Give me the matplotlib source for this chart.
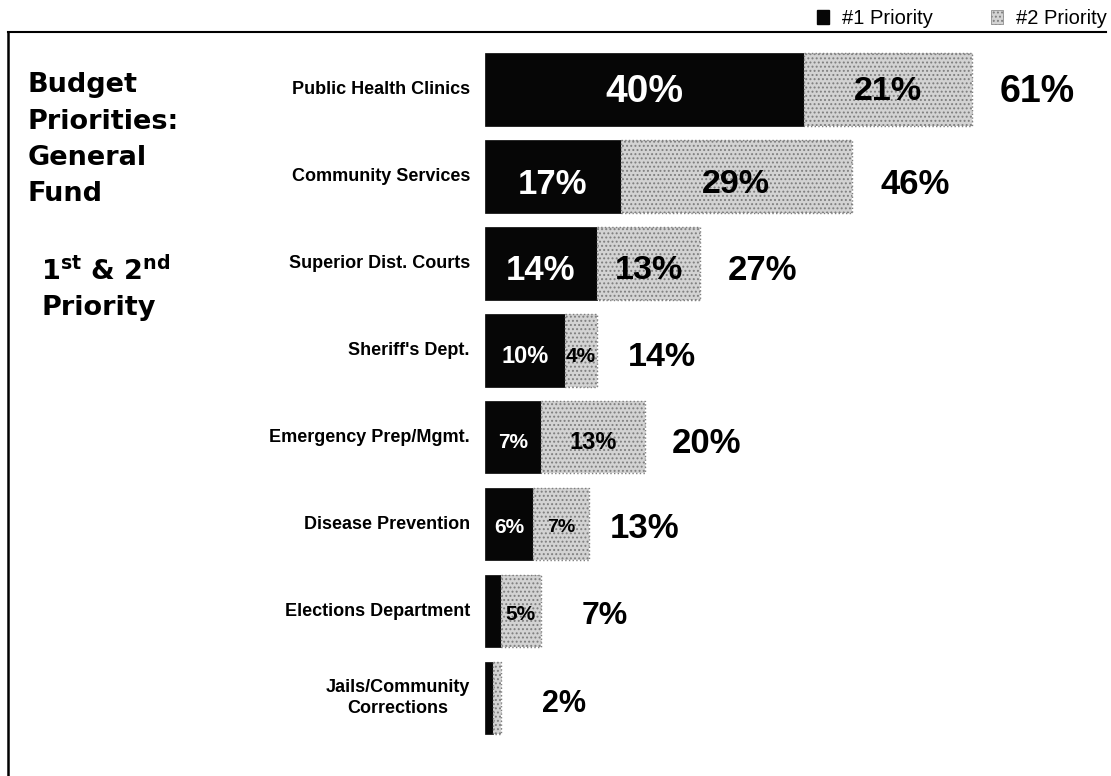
import matplotlib
matplotlib.use("Agg")
import matplotlib.pyplot as plt
import matplotlib.transforms as mtransforms
from matplotlib.patches import Patch
from matplotlib.lines import Line2D

# ---------------- data ----------------
categories = ["Public Health Clinics", "Community Services", "Superior Dist. Courts",
              "Sheriff's Dept.", "Emergency Prep/Mgmt.", "Disease Prevention",
              "Elections Department", "Jails/Community\nCorrections"]
first_priority = [40, 17, 14, 10, 7, 6, 2, 1]
second_priority = [21, 29, 13, 4, 13, 7, 5, 1]
totals = [61, 46, 27, 14, 20, 13, 7, 2]
first_labels = ["40%", "17%", "14%", "10%", "7%", "6%", "", ""]
second_labels = ["21%", "29%", "13%", "4%", "13%", "7%", "5%", ""]
total_labels = ["61%", "46%", "27%", "14%", "20%", "13%", "7%", "2%"]
legend_labels = ["#1 Priority", "#2 Priority"]
title_lines = ["Budget", "Priorities:", "General", "Fund"]
subtitle_lines = [r"1$^{\mathbf{st}}$ & 2$^{\mathbf{nd}}$", "Priority"]

# ---------------- style ----------------
W, H = 1111, 776
PX_PER_UNIT = 7.98
ROW0, ROW_STEP = 89.5, 86.93
first_sizes = [28, 25, 25, 17, 15, 15, 15, 15]
second_sizes = [24.5, 24.5, 24.5, 15, 17, 14, 15, 15]
total_sizes = [27, 25, 25, 24.5, 25, 25, 23, 22]
total_gaps_px = [28, 28, 27, 31, 27, 21, 41, 41]
row_text_shift_px = [-1, 5, 4, 4, 3, 1, 1, 2]
BLACK = "#060606"
GRAY = "#d3d3d3"
DOT = "#7e7e7e"

plt.rcParams["hatch.linewidth"] = 0.9
fig = plt.figure(figsize=(W / 100, H / 100), dpi=100)
fig.patch.set_facecolor("white")

ax = fig.add_axes([485 / W, 0, (W - 485) / W, 1])
ax.set_xlim(0, (W - 485) / PX_PER_UNIT)
ax.set_ylim((H - ROW0) / ROW_STEP, -ROW0 / ROW_STEP)
ax.axis("off")

y = list(range(len(categories)))
bh = 72.5 / ROW_STEP

b1 = ax.barh(y, first_priority, height=bh, color=BLACK, edgecolor=BLACK, linewidth=0.5)
b2 = ax.barh(y, second_priority, left=first_priority, height=bh, color=GRAY,
             edgecolor="none", linewidth=0)
ax.barh(y, second_priority, left=first_priority, height=bh, fill=False,
        hatch="....", edgecolor=DOT, linewidth=1.0, linestyle=":")

lab_font = ["Liberation Sans", "DejaVu Sans"]

for i, cat in enumerate(categories):
    ax.text(-15 / PX_PER_UNIT, i, cat, ha="right", va="center", fontsize=13,
            fontweight="bold", family=lab_font, multialignment="center",
            linespacing=1.3)
    tr = mtransforms.offset_copy(ax.transData, fig=fig, x=0,
                                 y=-row_text_shift_px[i], units="dots")
    if first_labels[i]:
        ax.text(first_priority[i] / 2, i, first_labels[i], ha="center",
                va="center_baseline", fontsize=first_sizes[i], fontweight="bold",
                color="white", family=lab_font, transform=tr)
    if second_labels[i]:
        ax.text(first_priority[i] + second_priority[i] / 2, i, second_labels[i],
                ha="center", va="center_baseline", fontsize=second_sizes[i],
                fontweight="bold", color="black", family=lab_font, transform=tr)
    ax.text(totals[i] + total_gaps_px[i] / PX_PER_UNIT, i, total_labels[i],
            ha="left", va="center_baseline", fontsize=total_sizes[i],
            fontweight="bold", color="black", family=lab_font, transform=tr)

# title block
title_font = ["DejaVu Sans"]
for yy, line in zip([92, 129, 165, 201], title_lines):
    fig.text(28 / W, 1 - yy / H, line, ha="left", va="baseline", fontsize=19.5,
             fontweight="bold", family=title_font)
for (xx, yy), line in zip([(41, 280), (42, 315)], subtitle_lines):
    fig.text(xx / W, 1 - yy / H, line, ha="left", va="baseline", fontsize=19.5,
             fontweight="bold", family=title_font)

# frame lines
fig.add_artist(Line2D([8 / W, 1106 / W], [1 - 32 / H, 1 - 32 / H], color="black",
                      linewidth=1.5, transform=fig.transFigure))
fig.add_artist(Line2D([8 / W, 8 / W], [1 - 32 / H, 0], color="black",
                      linewidth=1.8, transform=fig.transFigure))

# legend
handles = [Patch(facecolor=BLACK, edgecolor=BLACK),
           Patch(facecolor=GRAY, edgecolor=DOT, hatch="....", linewidth=0.5)]
fig.legend(handles, legend_labels, loc="upper right",
           bbox_to_anchor=(1107 / W, 1 - 9 / H), ncol=2, frameon=False,
           prop={"family": ["Liberation Sans"], "size": 14.5},
           handlelength=0.6, handleheight=0.7, handletextpad=0.65,
           columnspacing=2.9, borderpad=0, borderaxespad=0)

fig.savefig("out.png", dpi=100)
